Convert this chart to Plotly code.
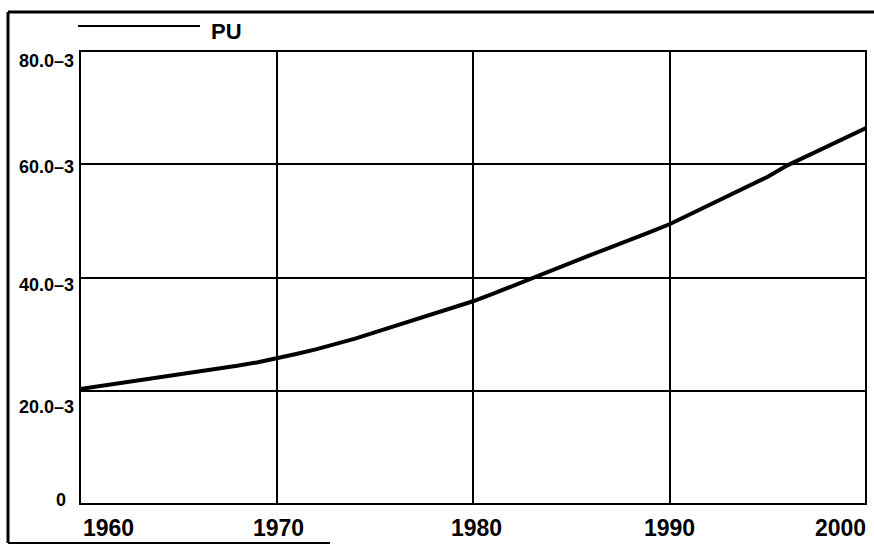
import plotly.graph_objects as go

# ---- data (values in units of 1e-3) ----
years = list(range(1960, 2001))
pu = [20.3, 20.8, 21.3, 21.8, 22.3, 22.8, 23.3, 23.8, 24.4, 25.0,
      25.7, 26.5, 27.3, 28.2, 29.2, 30.3, 31.4, 32.5, 33.6, 34.7,
      35.8, 37.1, 38.5, 39.8, 41.2, 42.6, 44.0, 45.3, 46.6, 48.0,
      49.4, 51.1, 52.8, 54.5, 56.1, 57.8, 59.8, 61.5, 63.1, 64.8,
      66.4]
y_tick_vals = [80, 60, 40, 20, 0]
y_tick_text = ["80.0\u20133", "60.0\u20133", "40.0\u20133", "20.0\u20133", "0"]
x_tick_vals = [1960, 1970, 1980, 1990, 2000]
x_tick_text = ["1960", "1970", "1980", "1990", "2000"]
series_name = "PU"

# ---- layout geometry ----
W, H = 874, 547
L, R, T, B = 80, 8, 51, 43
pw, ph = W - L - R, H - T - B

def px_x(p):
    return (p - L) / pw

def px_y(p):
    return (H - B - p) / ph

FONT = "Liberation Sans, Arial, sans-serif"

fig = go.Figure()
fig.add_trace(go.Scatter(x=years, y=pu, mode="lines", name=series_name,
                         line=dict(color="black", width=4), showlegend=False))

annotations = []
# y tick labels
y_shifts = [-10, -3, -7, -16, 4]
x_right = [76, 76, 76, 76, 68]
for v, t, ys, xr in zip(y_tick_vals, y_tick_text, y_shifts, x_right):
    annotations.append(dict(x=px_x(xr), xref="paper", y=v, yref="y", text=t,
                            showarrow=False, xanchor="right", yanchor="middle",
                            yshift=ys,
                            font=dict(family=FONT, size=18, color="black", weight="bold")))
# x tick labels
anchors = ["left", "center", "center", "center", "right"]
xsh = [1, 2, 3, 0, 2]
for v, t, a, s in zip(x_tick_vals, x_tick_text, anchors, xsh):
    annotations.append(dict(x=v, xref="x", y=px_y(528), yref="paper", text=t,
                            showarrow=False, xanchor=a, yanchor="middle", xshift=s,
                            font=dict(family=FONT, size=23, color="black", weight="bold")))
# legend text
annotations.append(dict(x=px_x(209), xref="paper", y=px_y(31), yref="paper",
                        text=series_name, showarrow=False, xanchor="left", yanchor="middle",
                        font=dict(family=FONT, size=22, color="black", weight="bold")))

shapes = []
# legend line
shapes.append(dict(type="line", xref="paper", yref="paper",
                   x0=px_x(78), x1=px_x(200), y0=px_y(26), y1=px_y(26),
                   line=dict(color="black", width=2)))
# outer frame (left, top, partial bottom)
shapes.append(dict(type="line", xref="paper", yref="paper",
                   x0=px_x(8), x1=px_x(8), y0=px_y(12), y1=px_y(543),
                   line=dict(color="black", width=3)))
shapes.append(dict(type="line", xref="paper", yref="paper",
                   x0=px_x(8), x1=px_x(880), y0=px_y(12), y1=px_y(12),
                   line=dict(color="black", width=3)))
shapes.append(dict(type="line", xref="paper", yref="paper",
                   x0=px_x(8), x1=px_x(330), y0=px_y(543), y1=px_y(543),
                   line=dict(color="black", width=2)))
# plot border
shapes.append(dict(type="rect", xref="paper", yref="paper", x0=0, x1=1, y0=0, y1=1,
                   line=dict(color="black", width=2), layer="above"))

fig.update_layout(
    width=W, height=H,
    margin=dict(l=L, r=R, t=T, b=B, pad=0),
    paper_bgcolor="white", plot_bgcolor="white",
    showlegend=False,
    annotations=annotations, shapes=shapes,
    xaxis=dict(range=[1960, 2000], tickvals=[1970, 1980, 1990], showticklabels=False,
               showgrid=True, gridcolor="black", gridwidth=2, zeroline=False,
               showline=False, ticks=""),
    yaxis=dict(range=[0, 80], tickvals=[20, 40, 60], showticklabels=False,
               showgrid=True, gridcolor="black", gridwidth=1.5, zeroline=False,
               showline=False, ticks=""),
)

fig.write_html("out.html", config={"displayModeBar": False},
               post_script="document.body.style.margin='0';document.body.style.overflow='hidden';")
